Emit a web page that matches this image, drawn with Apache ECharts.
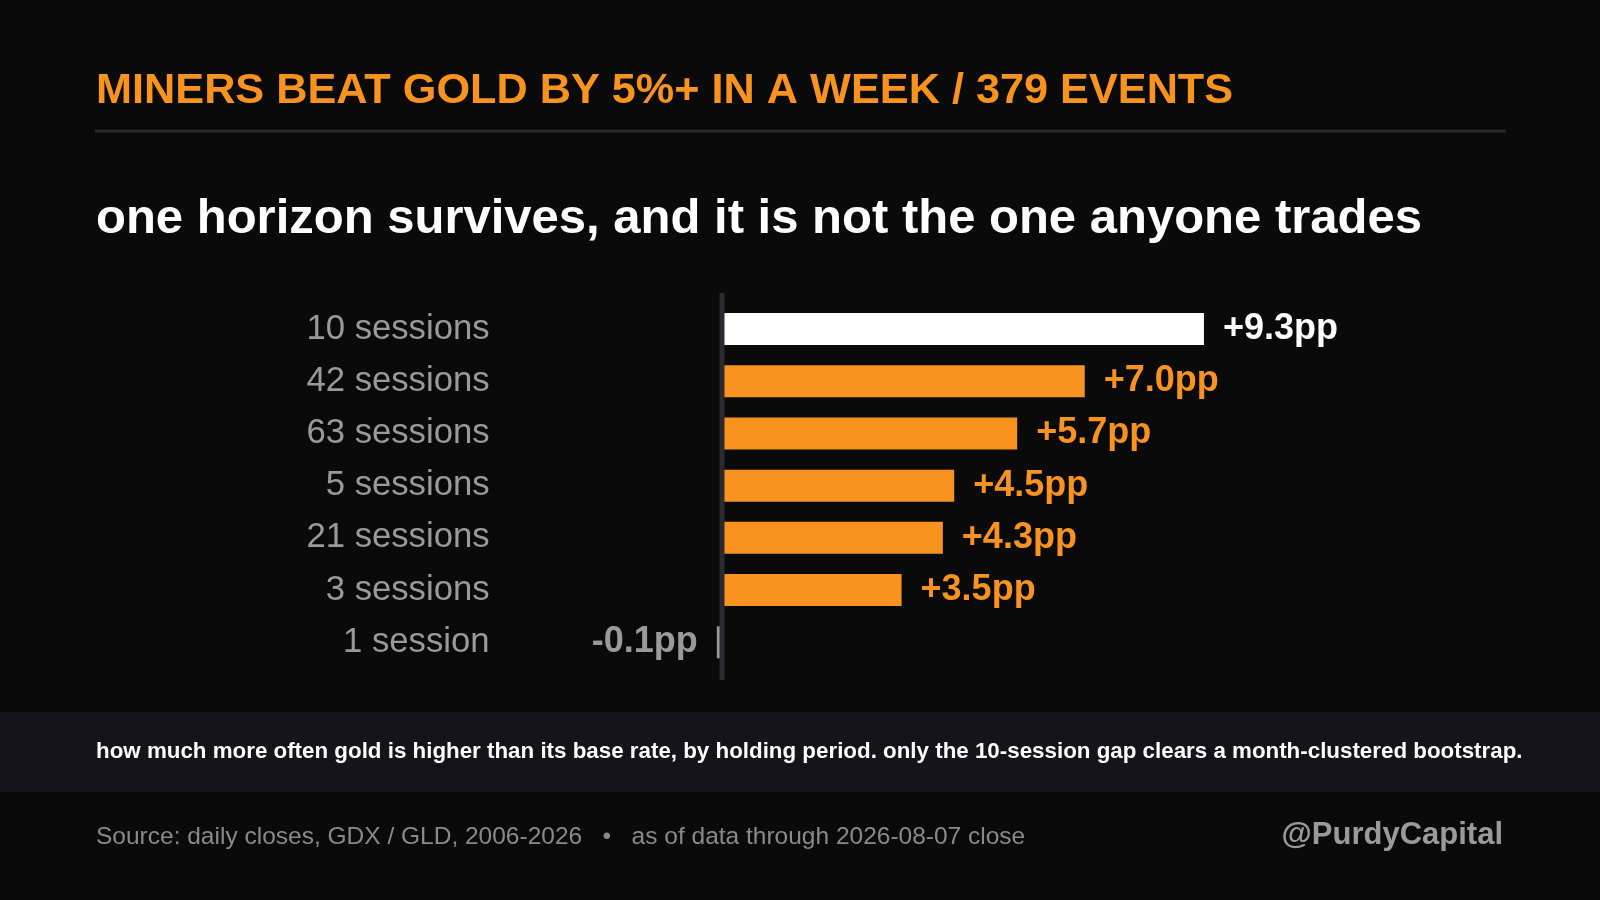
<!DOCTYPE html>
<html>
<head>
<meta charset="utf-8">
<script src="https://cdn.jsdelivr.net/npm/echarts@6/dist/echarts.min.js"></script>
<style>
html,body{margin:0;padding:0;background:#0a0a0a;}
#chart{width:1600px;height:900px;}
</style>
</head>
<body>
<div id="chart"></div>
<script>
const categories = ['10 sessions','42 sessions','63 sessions','5 sessions','21 sessions','3 sessions','1 session'];
const values = [9.34, 7.03, 5.72, 4.5, 4.28, 3.48, -0.1];
const titleText = 'MINERS BEAT GOLD BY 5%+ IN A WEEK / 379 EVENTS';
const subtitleText = 'one horizon survives, and it is not the one anyone trades';
const footnoteText = 'how much more often gold is higher than its base rate, by holding period. only the 10-session gap clears a month-clustered bootstrap.';
const sourceText = 'Source: daily closes, GDX / GLD, 2006-2026   \u2022   as of data through 2026-08-07 close';
const handleText = '@PurdyCapital';

const FONT = '"Liberation Sans", Arial, Helvetica, sans-serif';
const ORANGE = '#f7931e';
const GRAY = '#9a9a9a';

function barColor(i, v) {
  if (v < 0) return GRAY;
  if (i === 0) return '#ffffff';
  return ORANGE;
}

const chart = echarts.init(document.getElementById('chart'), null, {renderer: 'canvas'});

const seriesData = values.map((v, i) => ({
  value: v,
  itemStyle: {color: barColor(i, v)},
  label: {
    position: v < 0 ? 'left' : 'right',
    color: barColor(i, v)
  }
}));

const option = {
  backgroundColor: '#0a0a0a',
  animation: false,
  grid: {left: 515.6, right: 258.8, top: 302.9, height: 365.5, containLabel: false},
  xAxis: {
    type: 'value', min: -4, max: 12,
    show: false
  },
  yAxis: {
    type: 'category', data: categories, inverse: true,
    axisLine: {show: false}, axisTick: {show: false}, splitLine: {show: false},
    axisLabel: {color: GRAY, fontSize: 34.7, fontFamily: FONT, margin: 26}
  },
  series: [{
    type: 'bar',
    data: seriesData,
    barWidth: 32,
    label: {
      show: true,
      distance: 19,
      fontSize: 36,
      fontWeight: 'bold',
      fontFamily: FONT,
      formatter: p => (p.value > 0 ? '+' : '') + p.value.toFixed(1) + 'pp'
    }
  }],
  graphic: []
};
chart.setOption(option);

const zeroX = chart.convertToPixel({xAxisIndex: 0}, 0);

chart.setOption({
  graphic: [
    {type: 'rect', z: 0, silent: true, shape: {x: 0, y: 712, width: 1600, height: 80}, style: {fill: '#141419'}},
    {type: 'rect', silent: true, shape: {x: 95, y: 129.5, width: 1411, height: 3}, style: {fill: '#27272c'}},
    {type: 'rect', z: 10, silent: true, shape: {x: zeroX - 2.5, y: 293, width: 5, height: 387}, style: {fill: '#2a2a30'}},
    {type: 'text', silent: true, x: 96, y: 91, style: {text: titleText, fill: ORANGE, font: 'bold 43.25px ' + FONT, textAlign: 'left', textVerticalAlign: 'middle'}},
    {type: 'text', silent: true, x: 96, y: 219, style: {text: subtitleText, fill: '#ffffff', font: 'bold 49px ' + FONT, textAlign: 'left', textVerticalAlign: 'middle'}},
    {type: 'text', silent: true, x: 96, y: 752, style: {text: footnoteText, fill: '#ffffff', font: 'bold 22.35px ' + FONT, textAlign: 'left', textVerticalAlign: 'middle'}},
    {type: 'text', silent: true, x: 96, y: 837, style: {text: sourceText, fill: '#8a8a8a', font: '24.5px ' + FONT, textAlign: 'left', textVerticalAlign: 'middle'}},
    {type: 'text', silent: true, x: 1503, y: 835, style: {text: handleText, fill: '#9a9a9a', font: 'bold 31px ' + FONT, textAlign: 'right', textVerticalAlign: 'middle'}}
  ]
});
</script>
</body>
</html>
